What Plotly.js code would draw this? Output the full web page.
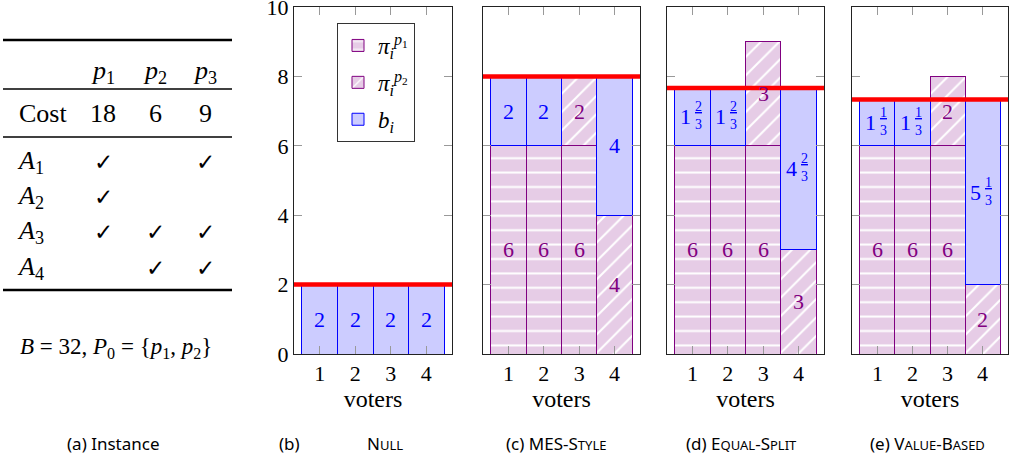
<!DOCTYPE html>
<html><head><meta charset="utf-8">
<script src="https://cdn.plot.ly/plotly-3.0.1.min.js"></script>
<style>html,body{margin:0;padding:0;background:#fff}</style>
</head><body><div id="chart" style="width:1020px;height:466px"></div>
<script>
// ---------- data ----------
const voters = [1, 2, 3, 4];
const yTicks = [0, 2, 4, 6, 8, 10];

// (b) Null
const nullP1 = [0, 0, 0, 0];
const nullP2 = [0, 0, 0, 0];
const nullB  = [2, 2, 2, 2];
// (c) MES-Style
const mesP1 = [6, 6, 6, 0];
const mesP2 = [0, 0, 2, 4];
const mesB  = [2, 2, 0, 4];
// (d) Equal-Split
const eqP1 = [6, 6, 6, 0];
const eqP2 = [0, 0, 3, 3];
const eqB  = [5/3, 5/3, 0, 14/3];
// (e) Value-Based
const vbP1 = [6, 6, 6, 0];
const vbP2 = [0, 0, 2, 2];
const vbB  = [4/3, 4/3, 0, 16/3];

const budgetLines = [2, 8, 23/3, 22/3];

// table (a)
const projects = ['p', 'p', 'p'];
const projectIdx = ['1', '2', '3'];
const costs = [18, 6, 9];
const voterRows = ['A', 'A', 'A', 'A'];
const voterIdx = ['1', '2', '3', '4'];
const approveA1 = [true, false, true];
const approveA2 = [true, false, false];
const approveA3 = [true, true, true];
const approveA4 = [false, true, true];

const legendNames = ['<i>π</i><sub><i>i</i></sub><sup><i>p</i><sub>1</sub></sup>', '<i>π</i><sub><i>i</i></sub><sup><i>p</i><sub>2</sub></sup>', '<i>b</i><sub><i>i</i></sub>'];

// ---------- styling / layout ----------
const W = 1020, H = 466;
const fx = x => x / W, fy = y => 1 - y / H;
const SERIF = '"Liberation Serif", serif';
const SANS = '"Noto Sans", sans-serif';
const PURPLE = '#800080', PFILL = '#e6cce6', BLUE = '#0000ff', BFILL = '#ccccff';

const panels = [
  {p1: nullP1, p2: nullP2, b: nullB, dom: [294, 452]},
  {p1: mesP1, p2: mesP2, b: mesB, dom: [483, 640]},
  {p1: eqP1, p2: eqP2, b: eqB, dom: [667, 824]},
  {p1: vbP1, p2: vbP2, b: vbB, dom: [852, 1008]},
];

const nz = arr => arr.map(v => v === 0 ? null : v);
const traces = [];
const annotations = [];
const shapes = [];
const layout = {
  width: W, height: H,
  margin: {l: 0, r: 0, t: 0, b: 0},
  paper_bgcolor: '#fff', plot_bgcolor: '#fff',
  font: {family: SERIF},
  barmode: 'stack', bargap: 0,
  showlegend: true,
  legend: {
    x: fx(337), y: fy(23), xanchor: 'left', yanchor: 'top',
    bgcolor: '#fff', bordercolor: '#333', borderwidth: 1,
    font: {family: SERIF, size: 23, color: '#000'},
    traceorder: 'grouped', itemwidth: 30, tracegroupgap: 4
  },
  annotations, shapes
};

function ann(o) {
  return Object.assign({showarrow: false, xanchor: 'center', yanchor: 'middle'}, o);
}

function labelFor(v) {
  const whole = Math.floor(v + 1e-9);
  const num = Math.round((v - whole) * 3);
  return {whole, num};
}

panels.forEach((pn, k) => {
  const xa = k === 0 ? 'x' : 'x' + (k + 1);
  const ya = k === 0 ? 'y' : 'y' + (k + 1);
  const show = k === 0;
  traces.push({
    type: 'bar', x: voters, y: nz(pn.p1), xaxis: xa, yaxis: ya, width: 1,
    name: legendNames[0], legendgroup: 'p1', showlegend: show, hoverinfo: 'skip',
    marker: {color: PFILL, line: {color: PURPLE, width: 1},
      pattern: {shape: '-', fgcolor: '#ffffff', bgcolor: PFILL, size: 14.4, solidity: 0.14, fillmode: 'replace'}}
  });
  traces.push({
    type: 'bar', x: voters, y: nz(pn.p2), xaxis: xa, yaxis: ya, width: 1,
    name: legendNames[1], legendgroup: 'p2', showlegend: show, hoverinfo: 'skip',
    marker: {color: PFILL, line: {color: PURPLE, width: 1},
      pattern: {shape: '/', fgcolor: '#ffffff', bgcolor: PFILL, size: 13, solidity: 0.16, fillmode: 'replace'}}
  });
  traces.push({
    type: 'bar', x: voters, y: nz(pn.b), xaxis: xa, yaxis: ya, width: 1,
    name: legendNames[2], legendgroup: 'b', showlegend: show, hoverinfo: 'skip',
    marker: {color: BFILL, line: {color: BLUE, width: 1}}
  });

  const axKey = k === 0 ? 'xaxis' : 'xaxis' + (k + 1);
  const ayKey = k === 0 ? 'yaxis' : 'yaxis' + (k + 1);
  layout[axKey] = {
    domain: [fx(pn.dom[0]), fx(pn.dom[1])], anchor: ya,
    range: [0.275, 4.725], tickvals: voters, ticktext: voters.map(String),
    ticks: 'inside', ticklen: 8, tickcolor: '#999', tickwidth: 1,
    showline: true, linecolor: '#222', linewidth: 1, mirror: 'ticks',
    showgrid: false, zeroline: false, fixedrange: true,
    tickfont: {family: SERIF, size: 22, color: '#000'},
    title: {text: 'voters', font: {family: SERIF, size: 24, color: '#000'}, standoff: 3}
  };
  layout[ayKey] = {
    domain: [fy(354), fy(7)], anchor: xa,
    range: [0, 10], tickvals: yTicks,
    ticks: 'inside', ticklen: 8, tickcolor: '#999', tickwidth: 1,
    showline: true, linecolor: '#222', linewidth: 1, mirror: 'ticks',
    showgrid: false, zeroline: false, fixedrange: true,
    showticklabels: k === 0, ticklabeloverflow: 'allow',
    tickfont: {family: SERIF, size: 22, color: '#000'}
  };

  shapes.push({type: 'line', xref: xa + ' domain', yref: ya, x0: 0, x1: 1,
    y0: budgetLines[k], y1: budgetLines[k], line: {color: '#ff0000', width: 4.5}, layer: 'above'});

  voters.forEach((vx, i) => {
    let base = 0;
    [[pn.p1[i], PURPLE], [pn.p2[i], PURPLE], [pn.b[i], BLUE]].forEach(([v, col]) => {
      if (v > 0) {
        const yc = base + v / 2;
        const lf = labelFor(v);
        if (lf.num === 0) {
          annotations.push(ann({xref: xa, yref: ya, x: vx, y: yc, text: String(lf.whole),
            font: {family: SERIF, size: 22, color: col}}));
        } else {
          annotations.push(ann({xref: xa, yref: ya, x: vx, y: yc, text: String(lf.whole),
            xshift: -7, font: {family: SERIF, size: 22, color: col}}));
          annotations.push(ann({xref: xa, yref: ya, x: vx, y: yc, text: '<u>' + lf.num + '</u><br>3',
            xshift: 6, yshift: 1, font: {family: SERIF, size: 14, color: col}}));
        }
      }
      base += v;
    });
  });
});

// ---------- captions ----------
const capY = fy(443);
const capFont = {family: SANS, size: 17, color: '#000'};
const sc = s => '<span style="font-size:13px">' + s + '</span>';
annotations.push(ann({xref: 'paper', yref: 'paper', x: fx(113), y: capY, text: '(a) Instance', font: capFont}));
annotations.push(ann({xref: 'paper', yref: 'paper', x: fx(289), y: capY, text: '(b)', font: capFont}));
annotations.push(ann({xref: 'paper', yref: 'paper', x: fx(385), y: capY, text: 'N' + sc('ULL'), font: capFont}));
annotations.push(ann({xref: 'paper', yref: 'paper', x: fx(556), y: capY, text: '(c) MES-S' + sc('TYLE'), font: capFont}));
annotations.push(ann({xref: 'paper', yref: 'paper', x: fx(741), y: capY, text: '(d) E' + sc('QUAL') + '-S' + sc('PLIT'), font: capFont}));
annotations.push(ann({xref: 'paper', yref: 'paper', x: fx(927), y: capY, text: '(e) V' + sc('ALUE') + '-B' + sc('ASED'), font: capFont}));

// ---------- table (a) ----------
const tFont = {family: SERIF, size: 26, color: '#000'};
const colX = [103, 155, 205];
[40, 290].forEach(y => shapes.push({type: 'line', xref: 'paper', yref: 'paper', x0: fx(3), x1: fx(232), y0: fy(y), y1: fy(y), line: {color: '#000', width: 2.5}}));
[89, 137].forEach(y => shapes.push({type: 'line', xref: 'paper', yref: 'paper', x0: fx(3), x1: fx(232), y0: fy(y), y1: fy(y), line: {color: '#000', width: 1.3}}));
projects.forEach((p, j) => annotations.push(ann({xref: 'paper', yref: 'paper', x: fx(colX[j]), y: fy(72),
  text: '<i>' + p + '</i><sub>' + projectIdx[j] + '</sub>', font: tFont})));
annotations.push(ann({xref: 'paper', yref: 'paper', x: fx(17), y: fy(113), xanchor: 'left', text: 'Cost', font: tFont}));
costs.forEach((c, j) => annotations.push(ann({xref: 'paper', yref: 'paper', x: fx(colX[j]), y: fy(113), text: String(c), font: tFont})));
const rowY = [162, 197, 232, 268];
const approvals = [approveA1, approveA2, approveA3, approveA4];
voterRows.forEach((a, r) => {
  annotations.push(ann({xref: 'paper', yref: 'paper', x: fx(15), y: fy(rowY[r]), xanchor: 'left',
    text: '<i>' + a + '</i><sub>' + voterIdx[r] + '</sub>', font: tFont}));
  approvals[r].forEach((ok, j) => {
    if (ok) annotations.push(ann({xref: 'paper', yref: 'paper', x: fx(colX[j]), y: fy(rowY[r]),
      text: '<b>✓</b>', font: {family: '"DejaVu Sans"', size: 23, color: '#000'}}));
  });
});
annotations.push(ann({xref: 'paper', yref: 'paper', x: fx(116), y: fy(348),
  text: '<i>B</i> = 32, <i>P</i><sub>0</sub> = {<i>p</i><sub>1</sub>, <i>p</i><sub>2</sub>}', font: {family: SERIF, size: 23, color: '#000'}}));

Plotly.newPlot('chart', traces, layout, {staticPlot: true, displayModeBar: false});
</script></body></html>
